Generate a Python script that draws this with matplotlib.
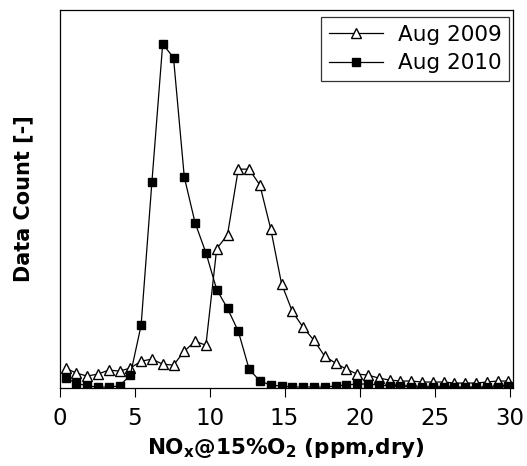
import matplotlib
matplotlib.use("Agg")
import matplotlib.pyplot as plt

plt.rcParams['font.family'] = ['DejaVu Sans']

nox = [0.40, 1.12, 1.84, 2.56, 3.28, 4.00, 4.72, 5.44, 6.16, 6.88, 7.60, 8.32,
       9.04, 9.76, 10.48, 11.20, 11.92, 12.64, 13.36, 14.08, 14.80, 15.52,
       16.24, 16.96, 17.68, 18.40, 19.12, 19.84, 20.56, 21.28, 22.00, 22.72,
       23.44, 24.16, 24.88, 25.60, 26.32, 27.04, 27.76, 28.48, 29.20, 29.92]

count_2009 = [19, 14, 11, 13, 17, 16, 19, 26, 28, 23, 22, 36, 46, 42, 139, 153,
              219, 219, 203, 159, 104, 76, 60, 47, 31, 24, 18, 13, 12, 9, 7, 6,
              6, 5, 5, 5, 4, 4, 4, 5, 6, 6]

count_2010 = [9, 4, 1, 0, 0, 1, 12, 62, 206, 345, 331, 211, 165, 135, 98, 79,
              56, 18, 6, 2, 1, 0, 0, 0, 0, 1, 2, 3, 3, 2, 1, 1, 0, 0, 0, 0, 0,
              0, 0, 0, 0, 1]

xticks = [0, 5, 10, 15, 20, 25, 30]

W, H = 527, 466
fig = plt.figure(figsize=(W / 100, H / 100), dpi=100)
ax = fig.add_axes([59.5 / W, 1 - 388 / H, (512.5 - 59.5) / W, (388 - 10) / H])

ax.plot(nox, count_2009, '-', color='black', lw=0.9, marker='^', ms=7,
        mfc='white', mec='black', mew=1.0, label='Aug 2009')
ax.plot(nox, count_2010, '-', color='black', lw=0.9, marker='s', ms=6,
        mfc='black', mec='black', mew=1.0, label='Aug 2010')

ax.set_xlim(0, 30.2)
ax.set_ylim(-1, 379)
ax.set_xticks(xticks)
ax.set_xticklabels([str(t) for t in xticks])
ax.set_yticks([])
ax.tick_params(axis='x', direction='out', length=6.5, width=0.8, labelsize=16.5, pad=7.5)
for s in ax.spines.values():
    s.set_linewidth(0.9)

ax.set_xlabel(r'NO$_\mathregular{x}$@15%O$_\mathregular{2}$ (ppm,dry)',
              fontsize=15.5, fontweight='bold', labelpad=4)
ax.set_ylabel('Data Count [-]', fontsize=15, fontweight='bold')
ax.yaxis.set_label_coords((33 - 59.5) / 453, 0.5)

leg = ax.legend(loc='upper right', bbox_to_anchor=((509 - 59.5) / 453, (388 - 17) / 378),
                fontsize=15.5, frameon=True, fancybox=False,
                edgecolor='black', borderpad=0.35, labelspacing=0.4,
                handlelength=2.5, handletextpad=0.7, borderaxespad=0)
leg.get_frame().set_linewidth(0.9)

fig.savefig('out.png', dpi=100)
